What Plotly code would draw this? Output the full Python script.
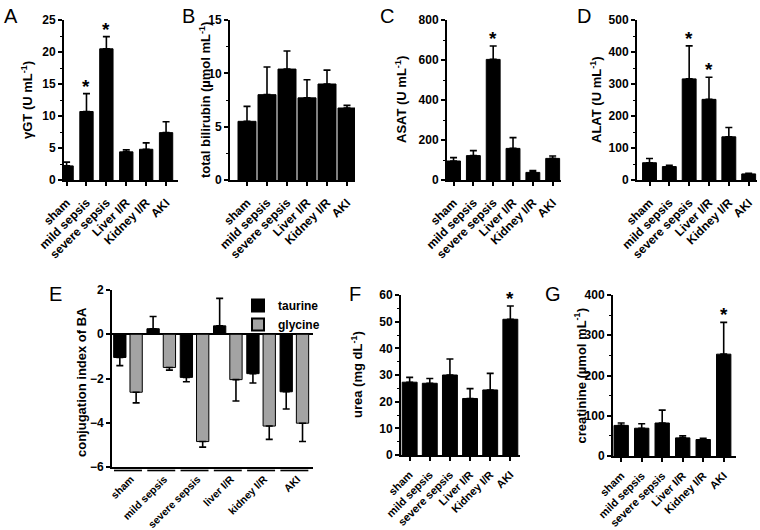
import plotly.graph_objects as go

W, H = 760, 530

cats = ["sham", "mild sepsis", "severe sepsis", "Liver I/R", "Kidney I/R", "AKI"]
cats_e = ["sham", "mild sepsis", "severe sepsis", "liver I/R", "kidney I/R", "AKI"]

ggt = [2.2, 10.7, 20.5, 4.4, 4.8, 7.4]
ggt_err = [0.6, 2.8, 1.9, 0.3, 1.0, 1.7]
ggt_sig = [0, 1, 1, 0, 0, 0]

bili = [5.5, 8.0, 10.4, 7.7, 9.0, 6.75]
bili_err = [1.4, 2.6, 1.7, 1.7, 1.3, 0.25]
bili_sig = [0, 0, 0, 0, 0, 0]

asat = [95, 122, 603, 158, 38, 108]
asat_err = [17, 25, 67, 54, 9, 12]
asat_sig = [0, 0, 1, 0, 0, 0]

alat = [54, 42, 316, 252, 135, 19]
alat_err = [13, 4, 103, 69, 29, 2]
alat_sig = [0, 0, 1, 1, 0, 0]

urea = [27.3, 26.9, 30.0, 21.2, 24.4, 50.9]
urea_err = [1.8, 1.8, 6.0, 3.7, 6.2, 5.0]
urea_sig = [0, 0, 0, 0, 0, 1]

creat = [76, 69, 82, 45, 41, 253]
creat_err = [6, 11, 32, 5, 3, 79]
creat_sig = [0, 0, 0, 0, 0, 1]

taurine = [-1.05, 0.25, -1.95, 0.38, -1.78, -2.6]
taurine_err = [0.37, 0.55, 0.2, 1.24, 0.42, 0.78]
glycine = [-2.62, -1.5, -4.85, -2.05, -4.15, -4.02]
glycine_err = [0.48, 0.12, 0.25, 0.97, 0.6, 0.83]

FONT = "Liberation Sans, Arial, sans-serif"


def px_x(p):
    return p / W


def px_y(p):
    return 1 - p / H


fig = go.Figure()
annotations = []
shapes = []

# label, values, err, sig, title, x-domain px, y-domain px, xrange, yrange, dtick, bar width,
# title x px, letter pos px, x tick font size, x tick standoff
panels = [
    ("A", ggt, ggt_err, ggt_sig, "γGT (U mL<sup>-1</sup>)", (64, 178), (20, 180), [-0.13, 5.6], [0, 25], 5, 0.67, 27, (2, 3), 12, 5),
    ("B", bili, bili_err, bili_sig, "total bilirubin (µmol mL<sup>-1</sup>)", (230, 355), (20, 180), [-0.85, 5.4], [0, 15], 5, 0.9, 205, (180, 3), 12, 5),
    ("C", asat, asat_err, asat_sig, "ASAT (U mL<sup>-1</sup>)", (447, 561), (20, 180), [-0.33, 5.42], [0, 800], 200, 0.7, 401, (378, 3), 12, 5),
    ("D", alat, alat_err, alat_sig, "ALAT (U mL<sup>-1</sup>)", (637, 757), (20, 180), [-0.63, 5.42], [0, 500], 100, 0.7, 596, (575, 3), 12, 5),
    ("F", urea, urea_err, urea_sig, "urea (mg dL<sup>-1</sup>)", (401, 520), (295, 455), [-0.43, 5.48], [0, 60], 10, 0.74, 357, (347, 281), 11, 3),
    ("G", creat, creat_err, creat_sig, "creatinine (µmol mL<sup>-1</sup>)", (613, 736), (295, 456), [-0.4, 5.6], [0, 400], 100, 0.7, 580, (543, 281), 11, 3),
]

tickfont = dict(family=FONT, size=12, color="black", weight="bold")
titlefont = dict(family=FONT, size=13, color="black", weight="bold")
layout_axes = {}

for i, (lab, vals, errs, sig, title, xd, yd, xr, yr, dt, bw, tx, lpos, xfs, xso) in enumerate(panels):
    n = i + 1
    xa = "x" if n == 1 else f"x{n}"
    ya = "y" if n == 1 else f"y{n}"
    fig.add_trace(go.Bar(
        x=cats, y=vals, width=bw, xaxis=xa, yaxis=ya, showlegend=False,
        marker=dict(color="black", line=dict(color="black", width=1)),
        error_y=dict(type="data", array=errs, arrayminus=[0] * len(errs), symmetric=False,
                     color="black", thickness=1.6, width=3.5),
    ))
    layout_axes["xaxis" if n == 1 else f"xaxis{n}"] = dict(
        domain=[px_x(xd[0]), px_x(xd[1])], anchor=ya, range=xr, type="category",
        showline=True, linecolor="black", linewidth=2, ticks="outside", ticklen=4,
        tickwidth=1.5, tickcolor="black", tickangle=-45,
        tickfont=dict(family=FONT, size=xfs, color="black", weight="bold"),
        ticklabelstandoff=xso,
        showgrid=False, zeroline=False, automargin=False,
    )
    layout_axes["yaxis" if n == 1 else f"yaxis{n}"] = dict(
        domain=[px_y(yd[1]), px_y(yd[0])], anchor=xa, range=yr, dtick=dt,
        showline=True, linecolor="black", linewidth=2, ticks="outside", ticklen=4,
        tickwidth=1.5, tickcolor="black", tickfont=tickfont, showgrid=False,
        zeroline=False, automargin=False,
        minor=dict(dtick=dt / 2, ticks="outside", ticklen=2,
                   tickwidth=1.2, tickcolor="black", showgrid=False),
    )
    for c, v, e, s in zip(cats, vals, errs, sig):
        if s:
            annotations.append(dict(x=c, y=v + e, xref=xa, yref=ya, text="*",
                                    showarrow=False, yanchor="bottom", yshift=-5,
                                    font=dict(family=FONT, size=19, color="black", weight="bold")))
    annotations.append(dict(x=px_x(tx), y=px_y((yd[0] + yd[1]) / 2), xref="paper", yref="paper",
                            text=title, textangle=-90, showarrow=False,
                            xanchor="center", yanchor="middle", font=titlefont))
    annotations.append(dict(x=px_x(lpos[0]), y=px_y(lpos[1]), xref="paper", yref="paper",
                            text=lab, showarrow=False, xanchor="left", yanchor="top",
                            font=dict(family=FONT, size=20, color="black")))

# Panel E (grouped)
ne = len(panels) + 1
xe, ye = f"x{ne}", f"y{ne}"


def one_sided(vals, errs):
    up = [e if v > 0 else 0 for v, e in zip(vals, errs)]
    dn = [e if v < 0 else 0 for v, e in zip(vals, errs)]
    return up, dn


tu, td = one_sided(taurine, taurine_err)
gu, gd = one_sided(glycine, glycine_err)
fig.add_trace(go.Bar(
    x=cats_e, y=taurine, name="taurine", xaxis=xe, yaxis=ye, width=0.37, offset=-0.43,
    marker=dict(color="black", line=dict(color="black", width=1)),
    error_y=dict(type="data", array=tu, arrayminus=td, symmetric=False,
                 color="black", thickness=1.6, width=3.5),
))
fig.add_trace(go.Bar(
    x=cats_e, y=glycine, name="glycine", xaxis=xe, yaxis=ye, width=0.37, offset=0.06,
    marker=dict(color="#a3a3a3", line=dict(color="black", width=1)),
    error_y=dict(type="data", array=gu, arrayminus=gd, symmetric=False,
                 color="black", thickness=1.6, width=3.5),
))
layout_axes[f"xaxis{ne}"] = dict(
    domain=[px_x(112), px_x(313)], anchor=ye, range=[-0.48, 5.56], type="category",
    showline=True, linecolor="black", linewidth=2, ticks="", tickangle=-45,
    tickfont=dict(family=FONT, size=10.5, color="black", weight="bold"),
    showgrid=False, zeroline=False, ticklabelshift=3,
    ticklabelstandoff=0, automargin=False,
)
layout_axes[f"yaxis{ne}"] = dict(
    domain=[px_y(467), px_y(290)], anchor=xe, range=[-6, 2], dtick=2,
    showline=True, linecolor="black", linewidth=2, ticks="outside", ticklen=4,
    tickwidth=1.5, tickcolor="black", tickfont=tickfont, showgrid=False,
    zeroline=True, zerolinecolor="black", zerolinewidth=1.6, automargin=False,
)
for j in range(len(cats_e)):
    shapes.append(dict(type="line", xref=xe, yref="paper", x0=j - 0.42, x1=j + 0.42,
                       y0=px_y(470.5), y1=px_y(470.5), line=dict(color="black", width=1.6)))
annotations.append(dict(x=px_x(81), y=px_y(382), xref="paper", yref="paper",
                        text="conjugation index of BA", textangle=-90, showarrow=False,
                        xanchor="center", yanchor="middle", font=titlefont))
annotations.append(dict(x=px_x(47), y=px_y(281), xref="paper", yref="paper",
                        text="E", showarrow=False, xanchor="left", yanchor="top",
                        font=dict(family=FONT, size=20, color="black")))

fig.update_layout(
    template="none",
    width=W, height=H, margin=dict(l=0, r=0, t=0, b=0, pad=0, autoexpand=False),
    paper_bgcolor="white", plot_bgcolor="white",
    barmode="overlay",
    annotations=annotations, shapes=shapes,
    legend=dict(x=px_x(238), y=px_y(291), xanchor="left", yanchor="top",
                bgcolor="rgba(0,0,0,0)", tracegroupgap=0, itemsizing="constant",
                font=dict(family=FONT, size=12, color="black", weight="bold")),
    **layout_axes,
)

fig.write_html(
    "out.html",
    config={"displayModeBar": False},
    post_script="document.body.style.margin='0px';document.body.style.overflow='hidden';",
)
